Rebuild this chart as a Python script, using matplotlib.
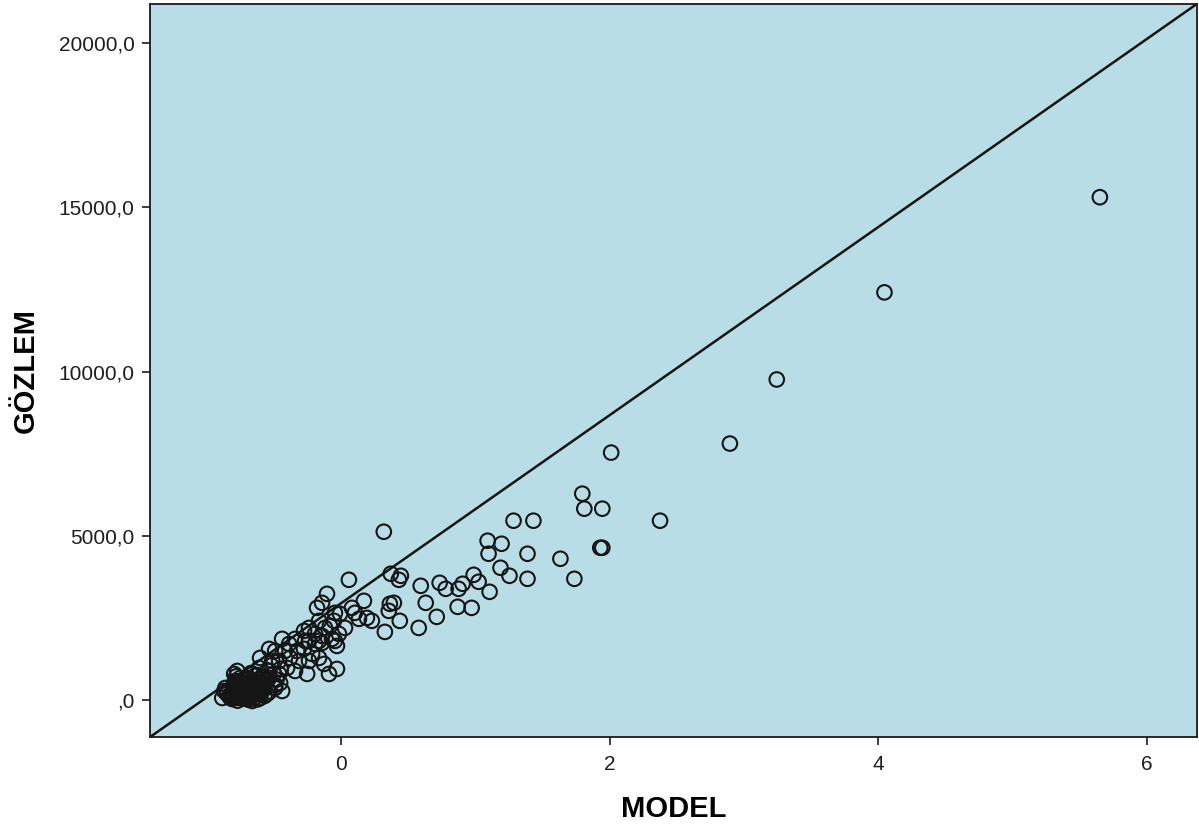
import numpy as np
import matplotlib
matplotlib.use('Agg')
import matplotlib.pyplot as plt

plt.rcParams['font.family'] = ['Liberation Sans', 'DejaVu Sans']

# model (standardised) vs observed values
model = [5.651, 4.047, 3.245, 2.896, 2.012, 1.797, 1.812, 1.946, 2.376, 1.285,
         1.433, 0.319, 1.931, 1.946, 1.634, 1.738, 1.092, 1.196, 1.099, 1.389,
         1.188, 1.255, 1.389, 0.988, 1.025, 0.906, 0.876, 1.107, 0.735, 0.780,
         0.594, 0.631, 0.869, 0.973, 0.713, 0.579, 0.371, 0.446, 0.431, 0.364,
         0.394, 0.356, 0.327, 0.438, 0.059, 0.171, -0.104, -0.141, -0.178, 0.104,
         0.193, 0.230, 0.134, -0.045, 0.030, -0.082, -0.015, -0.163, -0.238, -0.193,
         -0.045, -0.141, -0.267, 0.082, -0.007, -0.052, -0.119, -0.141, -0.067, -0.030,
         -0.163, -0.193, -0.238, -0.275, -0.342, -0.386, -0.275, -0.215, -0.327, -0.416,
         -0.379, -0.312, -0.238, -0.163, -0.490, -0.535, -0.438, -0.460, -0.512, -0.602,
         -0.609, -0.535, -0.460, -0.401, -0.342, -0.252, -0.089, -0.030, -0.126, -0.453,
         -0.438, -0.490, -0.535, -0.639, -0.683, -0.735, -0.787, -0.809, -0.847, -0.869,
         -0.824, -0.757, -0.683, -0.661, -0.602, -0.550, -0.772, -0.750, -0.795, -0.602,
         -0.861, -0.884, -0.787, -0.661, -0.713, -0.795,
         -0.83, -0.80, -0.78, -0.76, -0.74, -0.72, -0.70, -0.68, -0.66, -0.64,
         -0.62, -0.60, -0.58, -0.56, -0.75, -0.71, -0.67, -0.63, -0.59, -0.55,
         -0.52, -0.50, -0.48, -0.45, -0.78, -0.81, -0.77, -0.73, -0.69, -0.65,
         -0.62, -0.57, -0.53, -0.49, -0.85, -0.79, -0.70, -0.66, -0.61, -0.58,
         -0.74, -0.68, -0.64, -0.72, -0.76, -0.80,
         -0.82, -0.79, -0.75, -0.72, -0.69, -0.66, -0.63, -0.60, -0.77, -0.73,
         -0.68, -0.65, -0.71, -0.80, -0.62, -0.57]
gozlem = [15306, 12409, 9757, 7806, 7531, 6281, 5824, 5824, 5458, 5458,
          5458, 5122, 4634, 4634, 4299, 3689, 4848, 4756, 4452, 4452,
          4025, 3781, 3689, 3811, 3598, 3537, 3384, 3293, 3567, 3384,
          3476, 2958, 2836, 2805, 2531, 2195, 3842, 3781, 3659, 2927,
          2958, 2714, 2073, 2409, 3659, 3019, 3232, 2958, 2805, 2653,
          2500, 2409, 2470, 2653, 2195, 2256, 2012, 2409, 2195, 2012,
          1799, 1738, 1799, 2805, 2622, 2409, 2195, 1951, 1860, 1646,
          1799, 1707, 1799, 2104, 1860, 1707, 1555, 1403, 1494, 1494,
          1281, 1189, 1189, 1281, 1494, 1555, 1860, 1189, 1189, 1281,
          976, 884, 793, 976, 884, 793, 793, 945, 1098, 518,
          274, 366, 671, 732, 640, 488, 335, 213, 183, 274,
          61, 61, 183, -30, 61, 183, 884, 671, 518, 366,
          366, 61, 579, 488, 213, 793,
          120, 400, 150, 300, 90, 420, 260, 380, 120, 550,
          300, 180, 450, 600, 560, 680, 820, 760, 700, 900,
          1050, 800, 620, 950, 720, 30, -20, 40, 10, 50,
          20, 120, 260, 450, 250, 480, 520, 340, 620, 300,
          240, 150, 230, 350, 160, 90,
          180, 260, 380, 200, 330, 470, 410, 250, 100, 140,
          60, 290, 600, 320, 520, 380]

# reference line
line_slope = 2863.0
line_intercept = 2943.0

yticks = [0, 5000, 10000, 15000, 20000]
ytick_labels = [',0', '5000,0', '10000,0', '15000,0', '20000,0']
xticks = [0, 2, 4, 6]

fig = plt.figure(figsize=(11.99, 8.26), dpi=100)
ax = fig.add_axes([0.1251, 0.1077, 0.8732, 0.8875])
ax.set_facecolor('#b8dde6')

ax.scatter(model, gozlem, s=110, facecolors='none', edgecolors='#151515',
           linewidths=1.5, zorder=3)

xlim = (-1.422, 6.374)
ax.set_xlim(xlim)
ax.set_ylim(-1128, 21189)
xs = np.array(xlim)
ax.plot(xs, line_intercept + line_slope * xs, color='#151515', lw=1.8, zorder=2)

ax.set_xticks(xticks)
ax.set_xticklabels([str(t) for t in xticks])
ax.set_yticks(yticks)
ax.set_yticklabels(ytick_labels)
ax.tick_params(axis='both', direction='out', length=6, width=1.2,
               color='#1a1a1a', labelsize=15, labelcolor='#1e1e1e')
ax.tick_params(axis='x', pad=7)
ax.tick_params(axis='y', pad=5)
for sp in ax.spines.values():
    sp.set_linewidth(1.3)
    sp.set_color('#1a1a1a')

ax.set_xlabel('MODEL', fontsize=21, fontweight='bold', labelpad=15)
ax.set_ylabel('GÖZLEM', fontsize=21, fontweight='bold', labelpad=14)

fig.savefig('out.png', dpi=100)
